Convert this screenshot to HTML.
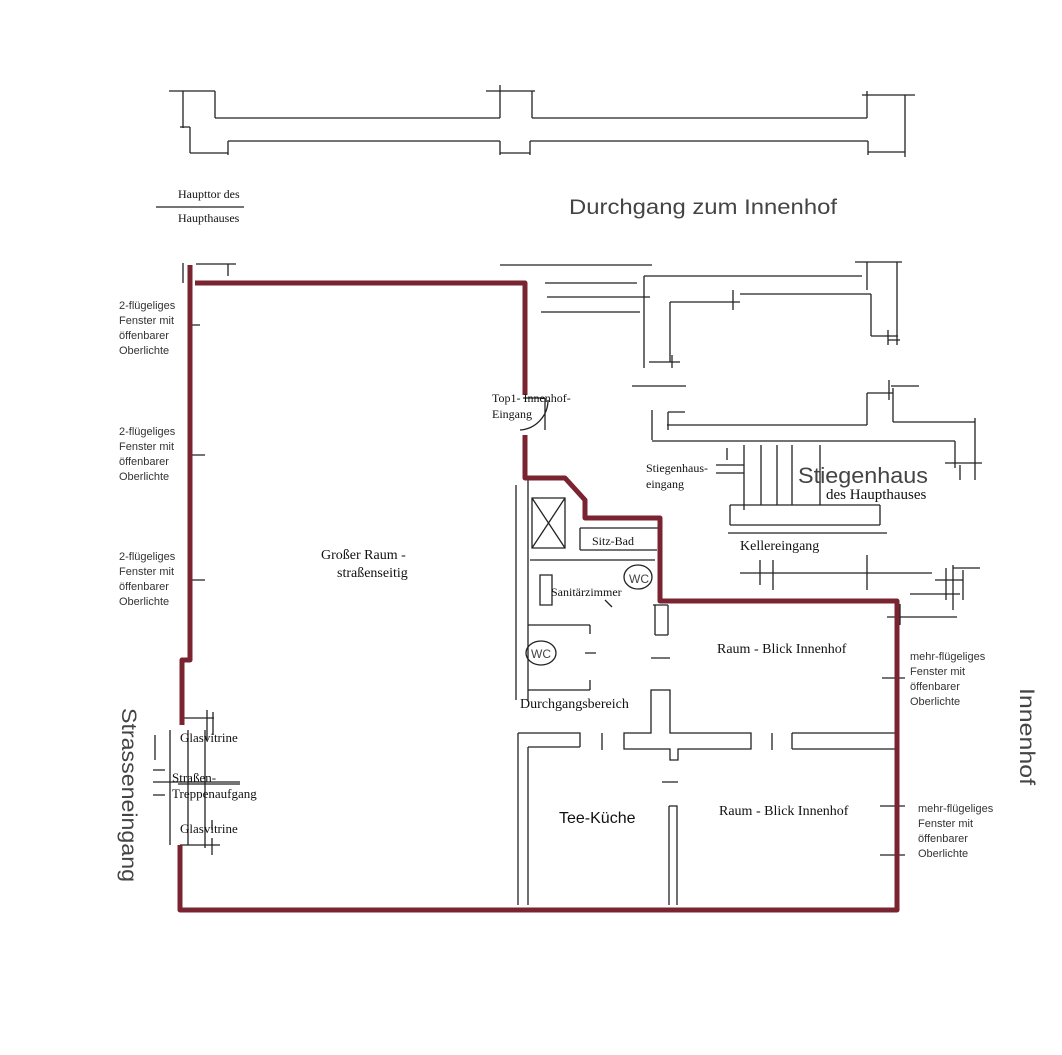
<!DOCTYPE html>
<html><head><meta charset="utf-8"><style>
body{margin:0;background:#fff}
svg{display:block}
.s{font-family:"Liberation Serif",serif;fill:#111}
.a{font-family:"Liberation Sans","DejaVu Sans",sans-serif;fill:#444}
</style></head><body>
<svg width="1062" height="1055" viewBox="0 0 1062 1055" xmlns="http://www.w3.org/2000/svg">
<g stroke="#222" stroke-width="1.3" fill="none">
<path d="M169,91 H215 M183,91 V128 M180,127 H190 M190,127 V153 M190,153 H228 M215,91 V118 M215,118 H500 M500,85 V118 M486,91 H535 M532,91 V118 M532,118 H867 M867,91 V118 M862,95 H915 M905,95 V157 M228,141 V155 M228,141 H500 M500,141 V155 M500,153 H530 M530,141 V155 M530,141 H868 M868,141 V155 M868,152 H905"/>
<path d="M156,207 H244"/>
<path d="M500,265 H652 M545,283 H637 M547,297 H650 M541,312 H640 M644,276 V368 M644,276 H862 M855,262 H902 M867,262 V290 M897,262 V345 M670,302 H740 M733,290 V310 M670,302 V362 M649,362 H680 M672,355 V368 M740,294 H871 M871,294 V336 M871,336 H898 M888,330 V345 M888,340 H900 M632,386 H686"/>
<path d="M889,380 V400 M891,386 H919 M867,393 H893 M867,393 V425 M667,425 H867 M668,412 H685 M652,410 V440 M668,412 V430 M652,441 H955 M893,388 V422 M893,422 H975 M975,418 V480 M955,441 V468 M945,463 H982 M960,465 V480"/>
<path d="M727,448 V460 M744,445 V510 M761,445 V505 M777,445 V505 M792,445 V505 M820,445 V505 M716,465 H744 M716,473 H744 M730,505 H880 M730,505 V525 M880,505 V525 M730,525 H880 M728,533 H887"/>
<path d="M740,573 H932 M760,560 V585 M773,560 V590 M867,555 V590 M935,580 H963 M946,568 V600 M953,565 V610 M963,570 V600 M953,568 H980 M910,594 H960 M887,617 H957 M900,604 V625"/>
<path d="M516,485 V700 M528,480 V700 M532,498 H565 V548 H532 Z M532,498 L565,548 M565,498 L532,548 M580,528 H660 M580,528 V550 M580,550 H657 M530,560 H655 M540,575 H552 V605 H540 Z M528,625 H590 M590,625 V634 M528,690 H590 M590,680 V690 M585,653 H596 M653,605 H668 M655,605 V635 M668,605 V635 M655,635 H668 M605,600 L612,607 M651,658 H670"/>
<ellipse cx="638" cy="577" rx="14" ry="12"/>
<ellipse cx="541" cy="653" rx="15" ry="12"/>
<path d="M518,733 H580 V747 M528,747 H580 M518,733 V905 M528,747 V905 M602,733 V750 M651,690 H670 V733 H751 V749 H678 V760 H670 V749 H624 V733 H651 Z M772,733 V750 M792,733 H895 M792,749 H895 M792,733 V749 M662,782 H678 M669,806 H677 V905 M669,806 V905"/>
<path d="M882,678 H905 M880,806 H905 M880,855 H905"/>
<path d="M190,325 H200 M190,455 H205 M190,580 H205 M180,718 H214 M207,710 V740 M213,712 V735 M155,735 V760 M170,730 V845 M188,730 V845 M205,730 V845 M153,770 H165 M153,782 H240 M178,784 H240 M153,795 H165 M212,820 V830 M205,830 V848 M180,845 H220 M212,838 V855"/>
<path d="M183,263 V283 M196,264 H236 M228,264 V276"/>
<path d="M523,398 H545 M545,398 V430 M520,430 A30,30 0 0 0 548,400"/>
</g>
<g stroke="#7a2432" stroke-width="5" fill="none" stroke-linejoin="round">
<path d="M190,265 V660 H182 V725"/>
<path d="M180,845 V910 H897 V601 H660 V518 H585 V500 L565,478 H525 V435"/>
<path d="M525,395 V283 H195"/>
</g>
<g class="s" font-size="12">
<text x="178" y="198">Haupttor des</text>
<text x="178" y="222">Haupthauses</text>
<g font-size="11" class="a" style="fill:#333">
<text x="119" y="309">2-flügeliges</text><text x="119" y="324">Fenster mit</text><text x="119" y="339">öffenbarer</text><text x="119" y="354">Oberlichte</text>
<text x="119" y="435">2-flügeliges</text><text x="119" y="450">Fenster mit</text><text x="119" y="465">öffenbarer</text><text x="119" y="480">Oberlichte</text>
<text x="119" y="560">2-flügeliges</text><text x="119" y="575">Fenster mit</text><text x="119" y="590">öffenbarer</text><text x="119" y="605">Oberlichte</text>
<text x="910" y="660">mehr-flügeliges</text><text x="910" y="675">Fenster mit</text><text x="910" y="690">öffenbarer</text><text x="910" y="705">Oberlichte</text>
<text x="918" y="812">mehr-flügeliges</text><text x="918" y="827">Fenster mit</text><text x="918" y="842">öffenbarer</text><text x="918" y="857">Oberlichte</text>
</g>
<text x="492" y="402">Top1- Innenhof-</text>
<text x="492" y="418">Eingang</text>
<text x="646" y="472">Stiegenhaus-</text>
<text x="646" y="488">eingang</text>
<text x="826" y="499" font-size="15">des Haupthauses</text>
<text x="740" y="550" font-size="14">Kellereingang</text>
<text x="592" y="545">Sitz-Bad</text>
<text x="551" y="596">Sanitärzimmer</text>
<text x="321" y="559" font-size="14">Großer Raum -</text>
<text x="337" y="577" font-size="14">straßenseitig</text>
<text x="717" y="653" font-size="14">Raum - Blick Innenhof</text>
<text x="719" y="815" font-size="14">Raum - Blick Innenhof</text>
<text x="520" y="708" font-size="14">Durchgangsbereich</text>
<text x="180" y="742" font-size="13">Glasvitrine</text>
<text x="172" y="782" font-size="13">Straßen-</text>
<text x="172" y="798" font-size="13">Treppenaufgang</text>
<text x="180" y="833" font-size="13">Glasvitrine</text>
</g>
<g class="a">
<text x="569" y="214" font-size="21" textLength="268" lengthAdjust="spacingAndGlyphs">Durchgang zum Innenhof</text>
<text x="798" y="483" font-size="22" textLength="130" lengthAdjust="spacingAndGlyphs">Stiegenhaus</text>
<text x="559" y="823" font-size="16" style="fill:#111">Tee-Küche</text>
<text x="629" y="583" font-size="12">WC</text>
<text x="531" y="658" font-size="12">WC</text>
<text transform="translate(122,708) rotate(90)" font-size="21" textLength="174" lengthAdjust="spacingAndGlyphs">Strasseneingang</text>
<text transform="translate(1020,688) rotate(90)" font-size="21" textLength="97" lengthAdjust="spacingAndGlyphs">Innenhof</text>
</g>
</svg>
</body></html>
